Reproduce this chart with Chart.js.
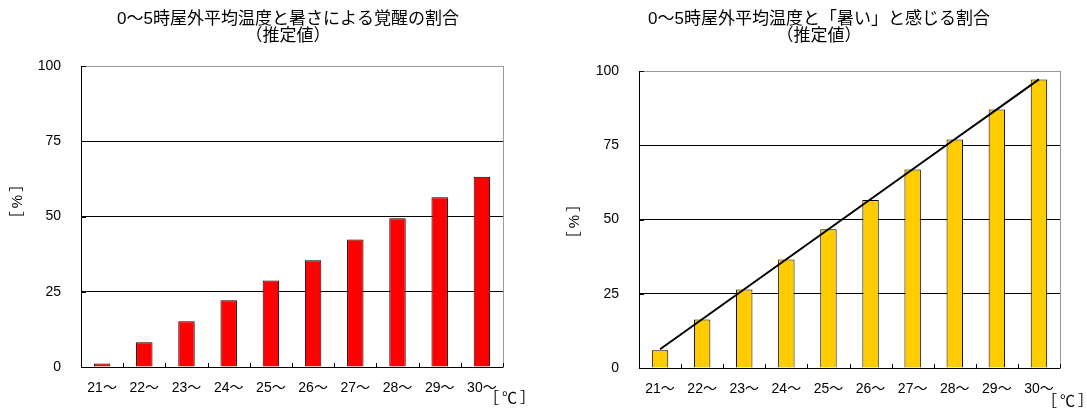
<!DOCTYPE html>
<html>
<head>
<meta charset="utf-8">
<script src="https://cdn.jsdelivr.net/npm/chart.js@4/dist/chart.umd.min.js"></script>
<style>
  html, body { margin: 0; padding: 0; background: #fff; }
  body { width: 1087px; height: 409px; position: relative; overflow: hidden; }
  canvas { position: absolute; top: 0; }
  #arousal { left: 0; }
  #hot { left: 551px; }
</style>
</head>
<body>
<canvas id="arousal" width="576" height="409"></canvas>
<canvas id="hot" width="536" height="409"></canvas>
<script>
// data
const categories = ['21～', '22～', '23～', '24～', '25～', '26～', '27～', '28～', '29～', '30～'];
const arousalPct = [1.2, 8.2, 15.2, 22.2, 28.7, 35.5, 42.4, 49.4, 56.4, 63.2];
const hotPct = [6.0, 16.3, 26.4, 36.5, 46.7, 56.6, 66.8, 76.9, 87.0, 97.1];
const hotTrend = [6.3, 16.4, 26.5, 36.6, 46.7, 56.8, 66.9, 77.0, 87.1, 97.2];
const yTicks = [0, 25, 50, 75, 100];

const arousalTitle = ['0～5時屋外平均温度と暑さによる覚醒の割合', '（推定値）'];
const hotTitle = ['0～5時屋外平均温度と「暑い」と感じる割合', '（推定値）'];
const yTitle = '［%］';
const xUnit = '［℃］';

const FONT = "'Liberation Sans', 'Noto Sans CJK JP', sans-serif";
Chart.defaults.font.family = FONT;
Chart.defaults.color = '#000';

// y title, unit label and the small inward tick marks
const extras = {
    id: 'extras',
    afterDraw(chart, args, opts) {
        const ctx = chart.ctx;
        const xs = chart.scales.x, ys = chart.scales.y;
        ctx.save();
        ctx.strokeStyle = '#000';
        ctx.lineWidth = 1;
        ctx.beginPath();
        for (let i = 0; i <= categories.length; i++) {
            const px = Math.round(xs.getPixelForValue(i - 0.5)) + 0.5;
            ctx.moveTo(px, ys.bottom);
            ctx.lineTo(px, ys.bottom - 4);
        }
        yTicks.forEach(v => {
            const py = Math.round(ys.getPixelForValue(v)) + 0.5;
            ctx.moveTo(xs.left, py);
            ctx.lineTo(xs.left + 5, py);
        });
        ctx.stroke();

        ctx.fillStyle = '#000';
        ctx.font = '15px ' + FONT;
        ctx.letterSpacing = '3px';
        ctx.textAlign = 'center';
        ctx.textBaseline = 'middle';
        ctx.save();
        ctx.translate(opts.yTitleX, opts.yTitleY);
        ctx.rotate(-Math.PI / 2);
        ctx.fillText(yTitle, 0, 0);
        ctx.restore();
        ctx.fillText(xUnit, opts.unitX, opts.unitY);
        ctx.restore();
    }
};

function makeChart(id, title, datasets, lay) {
    return new Chart(document.getElementById(id), {
        type: 'bar',
        data: { labels: categories, datasets: datasets },
        options: {
            responsive: false,
            animation: false,
            events: [],
            devicePixelRatio: 1,
            layout: { padding: 0 },
            plugins: {
                legend: { display: false },
                tooltip: { enabled: false },
                title: {
                    display: true,
                    text: title,
                    color: '#000',
                    font: { size: 17, weight: 'normal', lineHeight: 1 },
                    padding: { top: 11, bottom: lay.titleGap }
                },
                extras: lay.extras
            },
            scales: {
                x: {
                    grid: { display: false, drawTicks: false },
                    border: { color: '#000', width: 1 },
                    ticks: { font: { size: 14 }, padding: 13, maxRotation: 0, autoSkip: false },
                    afterFit: s => { s.height = lay.xHeight; }
                },
                y: {
                    min: 0,
                    max: 100,
                    afterBuildTicks: s => { s.ticks = yTicks.map(v => ({ value: v })); },
                    grid: {
                        drawTicks: false,
                        color: c => (c.tick && c.tick.value === 100) ? '#9a9a9a' : '#000',
                        lineWidth: 1
                    },
                    border: { color: '#000', width: 1 },
                    ticks: { font: { size: 14 }, padding: 20 },
                    afterFit: s => { s.width = lay.yWidth; }
                },
                y2: {
                    position: 'right',
                    grid: { display: false, drawTicks: false },
                    ticks: { display: false },
                    border: { color: '#9a9a9a', width: 1 },
                    afterFit: s => { s.width = lay.rightWidth; }
                }
            }
        },
        plugins: [extras]
    });
}

makeChart('arousal', arousalTitle, [{
    type: 'bar',
    data: arousalPct,
    backgroundColor: '#ff0000',
    borderColor: '#000',
    borderWidth: 1,
    categoryPercentage: 1,
    barPercentage: 0.39
}], {
    titleGap: 21, xHeight: 42, yWidth: 81, rightWidth: 73,
    extras: { yTitleX: 18, yTitleY: 200, unitX: 511, unitY: 399 }
});

makeChart('hot', hotTitle, [{
    type: 'line',
    data: hotTrend,
    borderColor: '#000',
    borderWidth: 2,
    pointRadius: 0,
    tension: 0,
    fill: false,
    order: 0
}, {
    type: 'bar',
    data: hotPct,
    backgroundColor: '#ffcc00',
    borderColor: '#000',
    borderWidth: 1,
    categoryPercentage: 1,
    barPercentage: 0.39,
    order: 1
}], {
    titleGap: 26, xHeight: 41, yWidth: 88, rightWidth: 27,
    extras: { yTitleX: 24, yTitleY: 220, unitX: 518, unitY: 402 }
});
</script>
</body>
</html>
